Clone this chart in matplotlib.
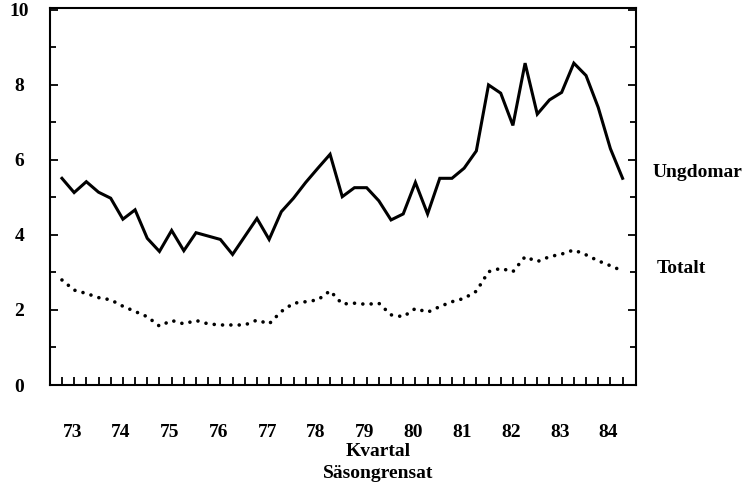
import matplotlib
matplotlib.use("Agg")
import matplotlib.pyplot as plt
import numpy as np

plt.rcParams['font.family'] = ['Liberation Serif', 'DejaVu Serif']
plt.rcParams['font.weight'] = 'bold'

# Quarterly data 1973Q1 .. 1984Q3 (seasonally adjusted)
quarters = [f"{y}Q{q}" for y in range(1973, 1985) for q in range(1, 5)][:47]

ungdomar = [5.51, 5.13, 5.42, 5.14, 4.98, 4.42, 4.67, 3.91, 3.56, 4.12,
            3.58, 4.06, 3.97, 3.88, 3.48, 3.96, 4.44, 3.88, 4.62, 4.98,
            5.40, 5.78, 6.15, 5.02, 5.26, 5.26, 4.91, 4.40, 4.56, 5.40,
            4.56, 5.51, 5.51, 5.78, 6.24, 8.00, 7.78, 6.92, 8.58, 7.22,
            7.60, 7.80, 8.58, 8.25, 7.40, 6.30, 5.51]

totalt = [2.80, 2.53, 2.44, 2.33, 2.27, 2.10, 1.96, 1.82, 1.57, 1.72,
          1.63, 1.72, 1.63, 1.60, 1.60, 1.60, 1.73, 1.63, 1.96, 2.18,
          2.22, 2.27, 2.51, 2.16, 2.18, 2.15, 2.18, 1.87, 1.82, 2.04,
          1.94, 2.09, 2.22, 2.31, 2.50, 3.02, 3.11, 3.02, 3.42, 3.29,
          3.42, 3.49, 3.60, 3.47, 3.31, 3.18, 3.04]

year_labels = ["73", "74", "75", "76", "77", "78", "79", "80", "81", "82", "83", "84"]
y_ticks = [0, 2, 4, 6, 8, 10]

x = np.arange(len(quarters))

fig = plt.figure(figsize=(7.5, 4.92), dpi=100)
ax = fig.add_axes([50/750, 1-385/492, (636-50)/750, (385-8)/492])

ax.plot(x, ungdomar, color='black', lw=2.2, solid_joinstyle='miter')
ax.plot(x, totalt, color='black', lw=2.6, linestyle=(0, (0.01, 2.3)),
        dash_capstyle='round')

ax.set_xlim(-0.98, 47.1)
ax.set_ylim(0, 10.05)

for s in ax.spines.values():
    s.set_linewidth(1.5)

ax.set_yticks(y_ticks)
ax.set_yticklabels([str(v) for v in y_ticks])
ax.set_yticks([1, 3, 5, 7, 9], minor=True)
ax.tick_params(axis='y', which='both', direction='in', left=True, right=True, width=1.3)
ax.tick_params(axis='y', which='major', length=6, labelsize=14, pad=22)
ax.tick_params(axis='y', which='minor', length=4)
for lab in ax.get_yticklabels():
    lab.set_horizontalalignment('center')
    lab.set_fontweight('bold')

ax.set_xticks(x)
ax.set_xticklabels([])
ax.tick_params(axis='x', which='major', direction='in', length=6, width=1.3, bottom=True, top=False)

for k, lab in enumerate(year_labels):
    ax.annotate(lab, xy=(4*k + 0.85, 0), xycoords=('data', 'axes fraction'),
                xytext=(0, -34), textcoords='offset points',
                ha='center', va='center', fontsize=14, fontweight='bold')

ax.text(1.028, (ungdomar[-1] + 0.15) / 10.05, "Ungdomar", transform=ax.transAxes,
        ha='left', va='center', fontsize=14, fontweight='bold')
ax.text(1.036, 3.1 / 10.05, "Totalt", transform=ax.transAxes,
        ha='left', va='center', fontsize=14, fontweight='bold')

fig.text(378/750, 1-452/492, "Kvartal", ha='center', va='center', fontsize=14, fontweight='bold')
fig.text(378/750, 1-474/492, "Säsongrensat", ha='center', va='center', fontsize=14, fontweight='bold')

fig.savefig("out.png", dpi=100)
